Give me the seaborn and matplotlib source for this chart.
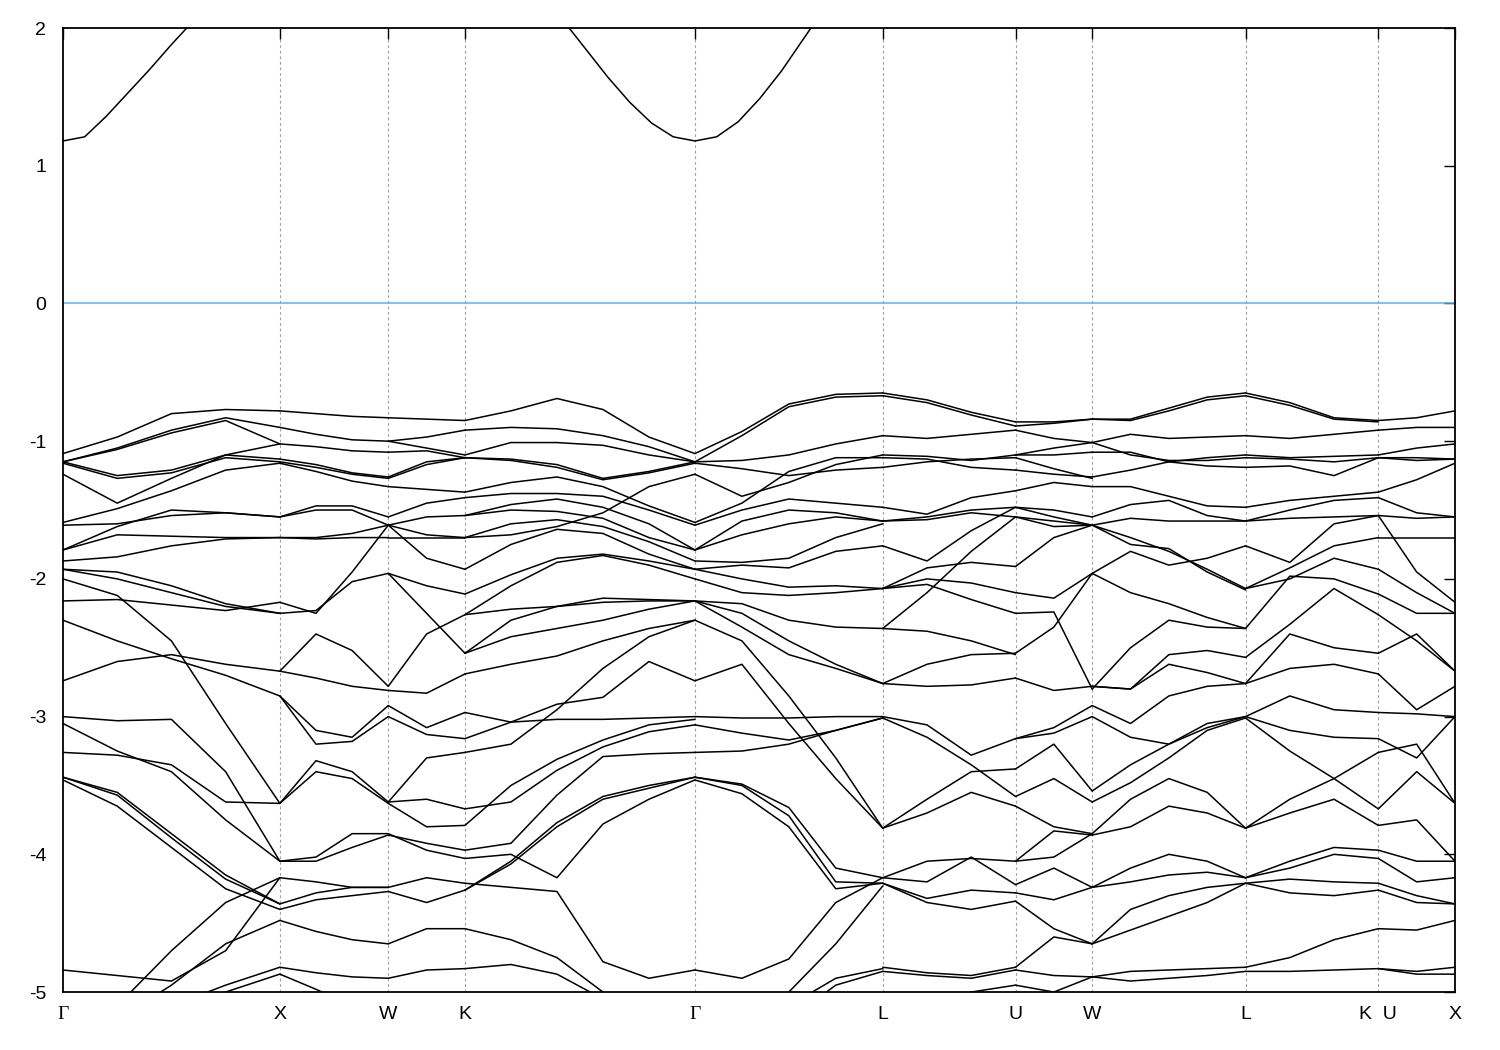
import numpy as np
import pandas as pd
import seaborn as sns
import matplotlib.pyplot as plt

# high-symmetry points of the fcc path (units of 2pi/a)
kpath_labels = ["Γ", "X", "W", "K", "Γ", "L", "U", "W", "L", "K  U", "X"]
kpath_pos = [0.0, 1.0, 1.5, 1.8536, 2.9142, 3.7802, 4.3926, 4.7462, 5.4533, 6.0657, 6.4193]

# valence bands (eV), one row per line, sampled evenly along each segment
bands_g_x = [
    [-1.09, -0.97, -0.80, -0.77, -0.78],
    [-1.15, -1.05, -0.92, -0.83, -0.90],
    [-1.15, -1.06, -0.94, -0.85, -1.02],
    [-1.15, -1.25, -1.21, -1.10, -1.13],
    [-1.16, -1.27, -1.23, -1.12, -1.15],
    [-1.24, -1.45, -1.27, -1.10, -1.02],
    [-1.59, -1.49, -1.36, -1.21, -1.16],
    [-1.61, -1.60, -1.54, -1.52, -1.55],
    [-1.79, -1.62, -1.50, -1.52, -1.55],
    [-1.79, -1.68, -1.69, -1.70, -1.70],
    [-1.87, -1.84, -1.76, -1.71, -1.70],
    [-1.93, -1.95, -2.05, -2.18, -2.25],
    [-1.93, -2.00, -2.10, -2.20, -2.25],
    [-2.00, -2.12, -2.45, -3.05, -3.63],
    [-2.16, -2.15, -2.19, -2.23, -2.17],
    [-2.30, -2.45, -2.58, -2.70, -2.85],
    [-2.74, -2.60, -2.55, -2.62, -2.67],
    [-3.00, -3.03, -3.02, -3.40, -4.05],
    [-3.05, -3.25, -3.40, -3.75, -4.05],
    [-3.26, -3.28, -3.35, -3.62, -3.63],
    [-3.44, -3.55, -3.85, -4.15, -4.36],
    [-3.44, -3.57, -3.88, -4.18, -4.36],
    [-3.46, -3.65, -3.95, -4.25, -4.40],
    [-4.84, -4.88, -4.92, -4.70, -4.17],
    [-5.30, -5.10, -4.70, -4.35, -4.17],
    [-5.30, -5.20, -4.95, -4.65, -4.48],
    [-5.50, -5.30, -5.10, -4.95, -4.82],
    [-5.50, -5.35, -5.15, -5.00, -4.87],
]

bands_x_w = [
    [-0.78, -0.80, -0.82, -0.83],
    [-0.90, -0.95, -0.99, -1.00],
    [-1.02, -1.04, -1.07, -1.08],
    [-1.13, -1.17, -1.23, -1.26],
    [-1.15, -1.19, -1.24, -1.27],
    [-1.16, -1.22, -1.29, -1.33],
    [-1.55, -1.47, -1.47, -1.55],
    [-1.55, -1.50, -1.50, -1.61],
    [-1.70, -1.70, -1.67, -1.61],
    [-1.70, -1.71, -1.70, -1.70],
    [-2.17, -2.25, -1.95, -1.61],
    [-2.25, -2.23, -2.02, -1.96],
    [-2.67, -2.40, -2.52, -2.78],
    [-2.67, -2.72, -2.78, -2.81],
    [-2.85, -3.10, -3.15, -2.92],
    [-2.85, -3.20, -3.18, -3.00],
    [-3.63, -3.32, -3.40, -3.62],
    [-3.63, -3.40, -3.45, -3.63],
    [-4.05, -4.02, -3.85, -3.85],
    [-4.05, -4.05, -3.95, -3.86],
    [-4.17, -4.20, -4.24, -4.24],
    [-4.36, -4.28, -4.24, -4.24],
    [-4.40, -4.33, -4.30, -4.27],
    [-4.48, -4.56, -4.62, -4.65],
    [-4.82, -4.86, -4.89, -4.90],
    [-4.87, -4.98, -5.10, -5.20],
]

bands_w_k = [
    [-0.83, -0.84, -0.85],
    [-1.00, -0.97, -0.92],
    [-1.00, -1.05, -1.10],
    [-1.08, -1.07, -1.12],
    [-1.26, -1.15, -1.12],
    [-1.27, -1.17, -1.12],
    [-1.33, -1.35, -1.37],
    [-1.55, -1.45, -1.41],
    [-1.61, -1.55, -1.54],
    [-1.61, -1.68, -1.70],
    [-1.70, -1.70, -1.70],
    [-1.61, -1.85, -1.93],
    [-1.96, -2.05, -2.11],
    [-1.96, -2.25, -2.54],
    [-2.78, -2.40, -2.26],
    [-2.81, -2.83, -2.69],
    [-2.92, -3.08, -2.97],
    [-3.00, -3.13, -3.16],
    [-3.62, -3.30, -3.26],
    [-3.63, -3.80, -3.79],
    [-3.62, -3.60, -3.67],
    [-3.85, -3.97, -4.03],
    [-3.86, -3.92, -3.97],
    [-4.24, -4.17, -4.21],
    [-4.27, -4.35, -4.26],
    [-4.65, -4.54, -4.54],
    [-4.90, -4.84, -4.83],
    [-5.20, -5.05, -5.10],
]

bands_k_g = [
    [-0.85, -0.78, -0.69, -0.77, -0.97, -1.09],
    [-0.92, -0.90, -0.91, -0.96, -1.04, -1.15],
    [-1.10, -1.01, -1.01, -1.03, -1.10, -1.15],
    [-1.12, -1.13, -1.17, -1.27, -1.22, -1.15],
    [-1.12, -1.14, -1.19, -1.28, -1.23, -1.16],
    [-1.37, -1.30, -1.26, -1.33, -1.47, -1.59],
    [-1.41, -1.38, -1.38, -1.40, -1.50, -1.61],
    [-1.54, -1.46, -1.42, -1.48, -1.60, -1.79],
    [-1.54, -1.50, -1.51, -1.56, -1.70, -1.79],
    [-1.70, -1.68, -1.62, -1.52, -1.33, -1.24],
    [-1.70, -1.60, -1.57, -1.62, -1.73, -1.87],
    [-1.93, -1.75, -1.64, -1.67, -1.82, -1.93],
    [-2.11, -1.97, -1.85, -1.82, -1.87, -1.93],
    [-2.26, -2.05, -1.88, -1.83, -1.90, -2.00],
    [-2.26, -2.22, -2.20, -2.17, -2.16, -2.16],
    [-2.54, -2.42, -2.36, -2.30, -2.22, -2.16],
    [-2.54, -2.30, -2.20, -2.14, -2.15, -2.16],
    [-2.69, -2.62, -2.56, -2.45, -2.36, -2.30],
    [-3.26, -3.20, -2.95, -2.65, -2.42, -2.30],
    [-2.97, -3.04, -3.02, -3.02, -3.01, -3.00],
    [-3.16, -3.04, -2.91, -2.86, -2.60, -2.74],
    [-3.79, -3.50, -3.31, -3.17, -3.06, -3.02],
    [-3.67, -3.62, -3.39, -3.22, -3.11, -3.06],
    [-3.97, -3.92, -3.57, -3.29, -3.27, -3.26],
    [-4.26, -4.05, -3.77, -3.58, -3.50, -3.44],
    [-4.26, -4.07, -3.80, -3.60, -3.52, -3.44],
    [-4.03, -4.00, -4.17, -3.78, -3.60, -3.46],
    [-4.21, -4.24, -4.27, -4.78, -4.90, -4.84],
    [-4.54, -4.62, -4.75, -5.00, -5.20, -5.30],
    [-4.83, -4.80, -4.87, -5.05, -5.30, -5.40],
]

bands_g_l = [
    [-1.09, -0.93, -0.73, -0.66, -0.65],
    [-1.15, -0.96, -0.75, -0.68, -0.67],
    [-1.15, -1.14, -1.10, -1.02, -0.96],
    [-1.16, -1.20, -1.25, -1.21, -1.19],
    [-1.24, -1.40, -1.30, -1.17, -1.10],
    [-1.59, -1.45, -1.22, -1.12, -1.12],
    [-1.61, -1.50, -1.42, -1.45, -1.48],
    [-1.79, -1.58, -1.50, -1.52, -1.58],
    [-1.79, -1.68, -1.60, -1.55, -1.58],
    [-1.87, -1.88, -1.85, -1.70, -1.60],
    [-1.93, -1.90, -1.92, -1.80, -1.76],
    [-1.93, -2.00, -2.06, -2.05, -2.07],
    [-2.00, -2.10, -2.12, -2.10, -2.07],
    [-2.16, -2.18, -2.30, -2.35, -2.36],
    [-2.16, -2.35, -2.55, -2.65, -2.76],
    [-2.16, -2.25, -2.45, -2.62, -2.76],
    [-2.30, -2.45, -2.85, -3.30, -3.81],
    [-2.74, -2.62, -3.05, -3.45, -3.81],
    [-3.00, -3.01, -3.01, -3.00, -3.00],
    [-3.06, -3.12, -3.17, -3.10, -3.01],
    [-3.26, -3.25, -3.20, -3.10, -3.01],
    [-3.44, -3.49, -3.66, -4.10, -4.17],
    [-3.44, -3.50, -3.72, -4.20, -4.21],
    [-3.46, -3.56, -3.80, -4.25, -4.21],
    [-4.84, -4.90, -4.76, -4.35, -4.17],
    [-5.30, -5.20, -5.00, -4.65, -4.23],
    [-5.30, -5.30, -5.10, -4.90, -4.83],
    [-5.40, -5.40, -5.20, -4.95, -4.85],
]

bands_l_u = [
    [-0.65, -0.70, -0.79, -0.86],
    [-0.67, -0.72, -0.81, -0.89],
    [-0.96, -0.98, -0.95, -0.92],
    [-1.10, -1.11, -1.14, -1.10],
    [-1.12, -1.13, -1.19, -1.21],
    [-1.19, -1.15, -1.13, -1.12],
    [-1.48, -1.53, -1.41, -1.36],
    [-1.58, -1.57, -1.52, -1.55],
    [-1.58, -1.55, -1.50, -1.48],
    [-1.76, -1.87, -1.65, -1.48],
    [-2.07, -1.92, -1.88, -1.91],
    [-2.07, -2.04, -2.15, -2.25],
    [-2.07, -2.00, -2.03, -2.10],
    [-2.36, -2.10, -1.80, -1.55],
    [-2.36, -2.38, -2.45, -2.55],
    [-2.76, -2.62, -2.55, -2.54],
    [-2.76, -2.78, -2.77, -2.72],
    [-3.00, -3.06, -3.28, -3.16],
    [-3.01, -3.15, -3.35, -3.58],
    [-3.81, -3.60, -3.40, -3.38],
    [-3.81, -3.70, -3.55, -3.65],
    [-4.17, -4.05, -4.03, -4.05],
    [-4.17, -4.20, -4.02, -4.22],
    [-4.21, -4.32, -4.26, -4.28],
    [-4.21, -4.35, -4.40, -4.34],
    [-4.82, -4.86, -4.88, -4.82],
    [-4.85, -4.88, -4.90, -4.84],
    [-5.20, -5.10, -5.00, -4.95],
]

bands_u_w = [
    [-0.86, -0.86, -0.84],
    [-0.89, -0.87, -0.84],
    [-0.92, -0.98, -1.01],
    [-1.10, -1.05, -1.01],
    [-1.10, -1.10, -1.08],
    [-1.21, -1.24, -1.26],
    [-1.12, -1.20, -1.27],
    [-1.36, -1.30, -1.33],
    [-1.48, -1.50, -1.55],
    [-1.55, -1.58, -1.61],
    [-1.48, -1.55, -1.61],
    [-1.55, -1.62, -1.61],
    [-1.91, -1.70, -1.61],
    [-2.10, -2.14, -1.96],
    [-2.25, -2.24, -2.80],
    [-2.54, -2.35, -1.96],
    [-2.72, -2.81, -2.78],
    [-3.16, -3.08, -2.92],
    [-3.16, -3.12, -3.00],
    [-3.38, -3.20, -3.54],
    [-3.58, -3.45, -3.62],
    [-3.65, -3.80, -3.85],
    [-4.05, -3.83, -3.86],
    [-4.05, -4.02, -3.85],
    [-4.22, -4.10, -4.24],
    [-4.28, -4.33, -4.24],
    [-4.34, -4.54, -4.65],
    [-4.82, -4.60, -4.65],
    [-4.84, -4.88, -4.89],
    [-4.95, -5.00, -4.89],
]

bands_w_l = [
    [-0.84, -0.84, -0.76, -0.68, -0.65],
    [-0.84, -0.85, -0.78, -0.70, -0.67],
    [-1.01, -0.95, -0.98, -0.97, -0.96],
    [-1.01, -1.10, -1.14, -1.14, -1.12],
    [-1.08, -1.08, -1.15, -1.18, -1.19],
    [-1.26, -1.21, -1.15, -1.12, -1.10],
    [-1.33, -1.33, -1.40, -1.47, -1.48],
    [-1.55, -1.46, -1.43, -1.54, -1.58],
    [-1.61, -1.56, -1.58, -1.58, -1.58],
    [-1.61, -1.70, -1.80, -1.93, -2.07],
    [-1.61, -1.75, -1.78, -1.95, -2.08],
    [-1.96, -1.80, -1.90, -1.85, -1.76],
    [-1.96, -2.10, -2.18, -2.28, -2.36],
    [-2.80, -2.50, -2.30, -2.35, -2.36],
    [-2.78, -2.80, -2.55, -2.52, -2.57],
    [-2.78, -2.80, -2.62, -2.68, -2.76],
    [-2.92, -3.05, -2.85, -2.78, -2.76],
    [-3.00, -3.15, -3.20, -3.08, -3.00],
    [-3.54, -3.35, -3.20, -3.05, -3.00],
    [-3.62, -3.48, -3.30, -3.10, -3.01],
    [-3.85, -3.60, -3.45, -3.55, -3.81],
    [-3.86, -3.80, -3.65, -3.70, -3.81],
    [-4.24, -4.10, -4.00, -4.05, -4.17],
    [-4.24, -4.20, -4.15, -4.13, -4.17],
    [-4.65, -4.40, -4.30, -4.24, -4.21],
    [-4.65, -4.55, -4.45, -4.35, -4.21],
    [-4.89, -4.85, -4.84, -4.83, -4.82],
    [-4.89, -4.92, -4.90, -4.88, -4.85],
]

bands_l_k = [
    [-0.65, -0.72, -0.83, -0.85],
    [-0.67, -0.74, -0.84, -0.86],
    [-0.96, -0.98, -0.95, -0.92],
    [-1.10, -1.12, -1.11, -1.10],
    [-1.12, -1.13, -1.15, -1.12],
    [-1.19, -1.18, -1.25, -1.12],
    [-1.48, -1.43, -1.40, -1.37],
    [-1.58, -1.50, -1.43, -1.41],
    [-1.58, -1.56, -1.55, -1.54],
    [-1.76, -1.88, -1.60, -1.54],
    [-2.07, -1.92, -1.76, -1.70],
    [-2.07, -2.00, -1.85, -1.93],
    [-2.36, -1.98, -2.00, -2.11],
    [-2.57, -2.33, -2.07, -2.26],
    [-2.76, -2.40, -2.50, -2.54],
    [-2.76, -2.65, -2.62, -2.69],
    [-3.00, -2.85, -2.95, -2.97],
    [-3.00, -3.10, -3.15, -3.16],
    [-3.01, -3.25, -3.45, -3.26],
    [-3.81, -3.60, -3.45, -3.67],
    [-3.81, -3.70, -3.60, -3.79],
    [-4.17, -4.05, -3.95, -3.97],
    [-4.17, -4.10, -4.00, -4.03],
    [-4.21, -4.18, -4.20, -4.21],
    [-4.21, -4.28, -4.30, -4.26],
    [-4.82, -4.75, -4.62, -4.54],
    [-4.85, -4.85, -4.84, -4.83],
]

bands_k_x = [
    [-0.85, -0.83, -0.78],
    [-0.92, -0.90, -0.90],
    [-1.10, -1.05, -1.02],
    [-1.12, -1.12, -1.13],
    [-1.12, -1.14, -1.13],
    [-1.37, -1.28, -1.16],
    [-1.41, -1.52, -1.55],
    [-1.54, -1.56, -1.55],
    [-1.70, -1.70, -1.70],
    [-1.54, -1.95, -2.17],
    [-1.93, -2.10, -2.25],
    [-2.11, -2.25, -2.25],
    [-2.26, -2.45, -2.67],
    [-2.54, -2.40, -2.67],
    [-2.69, -2.95, -2.78],
    [-2.97, -2.98, -3.00],
    [-3.16, -3.30, -3.00],
    [-3.26, -3.20, -3.63],
    [-3.67, -3.40, -3.63],
    [-3.79, -3.75, -4.05],
    [-3.97, -4.05, -4.05],
    [-4.03, -4.20, -4.17],
    [-4.21, -4.30, -4.36],
    [-4.26, -4.35, -4.36],
    [-4.54, -4.55, -4.48],
    [-4.83, -4.85, -4.82],
    [-4.83, -4.87, -4.87],
]

# conduction band near the two Gamma points
cb1_k = [0.0, 0.1, 0.2, 0.3, 0.4, 0.5, 0.6, 0.7]
cb1_e = [1.18, 1.21, 1.36, 1.53, 1.70, 1.88, 2.05, 2.22]
cb2_k = [2.2142, 2.3142, 2.4142, 2.5142, 2.6142, 2.7142, 2.8142, 2.9142,
         3.0142, 3.1142, 3.2142, 3.3142, 3.4142, 3.5142]
cb2_e = [2.30, 2.04, 1.84, 1.64, 1.46, 1.31, 1.21, 1.18,
         1.21, 1.32, 1.49, 1.69, 1.92, 2.15]

segments = [
    (0, 1, bands_g_x), (1, 2, bands_x_w), (2, 3, bands_w_k), (3, 4, bands_k_g),
    (4, 5, bands_g_l), (5, 6, bands_l_u), (6, 7, bands_u_w), (7, 8, bands_w_l),
    (8, 9, bands_l_k), (9, 10, bands_k_x),
]

rows = []
for si, (i0, i1, bands) in enumerate(segments):
    for bi, band in enumerate(bands):
        ks = np.linspace(kpath_pos[i0], kpath_pos[i1], len(band))
        for k, e in zip(ks, band):
            rows.append((k, e, f"s{si}b{bi}"))
for k, e in zip(cb1_k, cb1_e):
    rows.append((k, e, "cb1"))
for k, e in zip(cb2_k, cb2_e):
    rows.append((k, e, "cb2"))
df = pd.DataFrame(rows, columns=["k", "E", "line"])

sns.set_theme(style="white")
plt.rcParams['font.family'] = ['Liberation Sans', 'DejaVu Sans']
plt.rcParams['axes.unicode_minus'] = False

fig = plt.figure(figsize=(15, 10.5), dpi=100)
ax = fig.add_axes([0.042, 0.0552, 0.928, 0.9181])

for k in kpath_pos[1:-1]:
    ax.axvline(k, color="#a0a0a0", lw=0.8, ls=(0, (2.5, 2.5)), zorder=0)
ax.axhline(0, color="#56b4e9", lw=1.1, zorder=1)

sns.lineplot(data=df, x="k", y="E", units="line", estimator=None,
             color="black", lw=1.1, ax=ax, legend=False)

ax.set_xlim(kpath_pos[0], kpath_pos[-1])
ax.set_ylim(-5, 2)
ax.set_xticks(kpath_pos)
ax.set_xticklabels(kpath_labels)
for lab in ax.get_xticklabels():
    if lab.get_text() == "Γ":
        lab.set_fontfamily(["Liberation Serif", "DejaVu Serif"])
ax.set_yticks(range(-5, 3))
ax.set_xlabel("")
ax.set_ylabel("")
ax.tick_params(direction="in", length=8, width=1, top=True, right=True,
               labelsize=14, colors="black")
ax.tick_params(axis="y", pad=12)
ax.tick_params(axis="x", pad=10)
for sp in ax.spines.values():
    sp.set_linewidth(1.3)
    sp.set_color("black")

fig.savefig("out.png", dpi=100)
